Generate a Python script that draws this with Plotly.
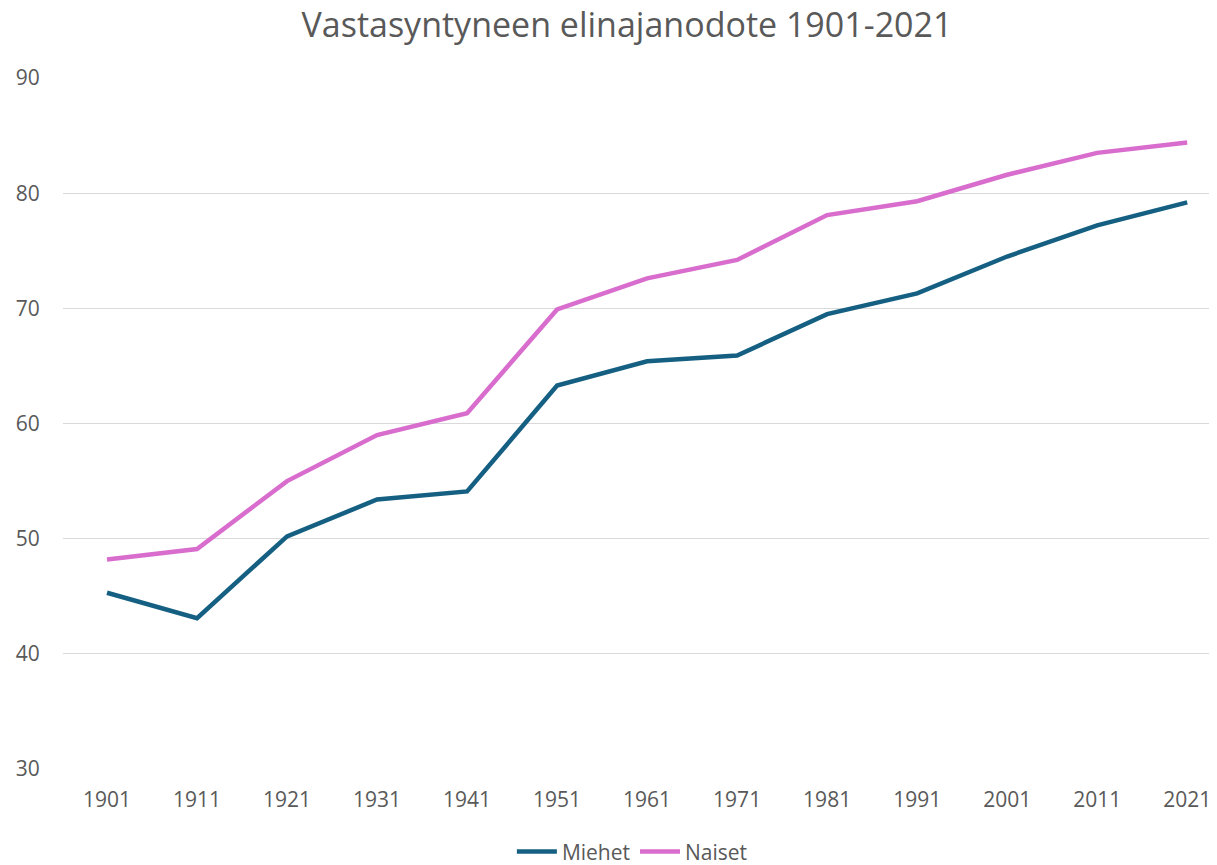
import plotly.graph_objects as go

years = ["1901", "1911", "1921", "1931", "1941", "1951", "1961", "1971", "1981", "1991", "2001", "2011", "2021"]
miehet = [45.3, 43.1, 50.2, 53.4, 54.1, 63.3, 65.4, 65.9, 69.5, 71.3, 74.5, 77.2, 79.2]
naiset = [48.2, 49.1, 55.0, 59.0, 60.9, 69.9, 72.6, 74.2, 78.1, 79.3, 81.6, 83.5, 84.4]
y_ticks = [30, 40, 50, 60, 70, 80, 90]

FONT = "Open Sans, Liberation Sans, sans-serif"
TXT = "#595959"

fig = go.Figure()
fig.add_trace(go.Scatter(x=years, y=miehet, mode="lines", name="Miehet",
                         line=dict(color="#156082", width=4.5)))
fig.add_trace(go.Scatter(x=years, y=naiset, mode="lines", name="Naiset",
                         line=dict(color="#D86DCD", width=4.5)))

fig.update_layout(
    width=1217, height=865,
    paper_bgcolor="white", plot_bgcolor="white",
    margin=dict(l=55, r=0, t=70, b=104),
    font=dict(family=FONT, color=TXT, size=21),
    title=dict(text="Vastasyntyneen elinajanodote 1901-2021",
               x=0.5086, xref="container", xanchor="center", y=1.0, yref="container",
               yanchor="top", pad=dict(t=5, b=0),
               font=dict(family=FONT, size=34, color=TXT)),
    showlegend=True,
    legend=dict(orientation="h", x=0.49, xanchor="center", xref="paper",
                y=-0.12, yanchor="middle", font=dict(size=21, color=TXT),
                itemwidth=40, traceorder="normal"),
    xaxis=dict(type="category", range=[-0.489, 12.42], showgrid=False,
               showline=False, zeroline=False, ticks="outside", ticklen=12,
               tickcolor="rgba(0,0,0,0)", tickfont=dict(size=21, color=TXT)),
    yaxis=dict(range=[30, 90], tickvals=y_ticks, showgrid=True,
               gridcolor="#D9D9D9", gridwidth=1.3, zeroline=False, showline=False,
               ticks="outside", ticklen=18, tickcolor="rgba(0,0,0,0)",
               tickfont=dict(size=21, color=TXT)),
)

fig.write_html("out.html", config={"displayModeBar": False})
